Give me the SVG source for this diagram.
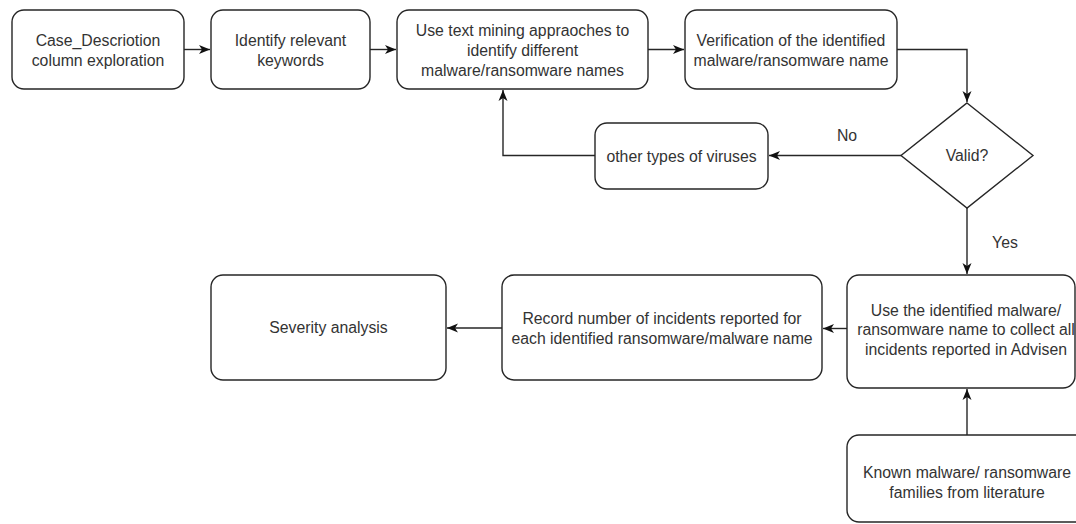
<svg xmlns="http://www.w3.org/2000/svg" width="1076" height="524" viewBox="0 0 1076 524">
<defs>
<style>
.box{fill:#ffffff;stroke:#262626;stroke-width:1.4}
.t{font-family:"Liberation Sans",Arial,sans-serif;font-size:15.8px;fill:#333333;text-anchor:middle;dominant-baseline:central}
.c{fill:none;stroke:#262626;stroke-width:1.4}
</style>
<marker id="arr" markerUnits="userSpaceOnUse" markerWidth="14" markerHeight="12" refX="12" refY="6" orient="auto">
<path d="M1,1.5 L12,6 L1,10.5 L4,6 Z" fill="#111111"/>
</marker>
</defs>
<rect width="1076" height="524" fill="#ffffff"/>
<g id="connectors">
<path class="c" d="M184,49.5 H210" marker-end="url(#arr)"/>
<path class="c" d="M370,49.5 H396" marker-end="url(#arr)"/>
<path class="c" d="M648,49.5 H684" marker-end="url(#arr)"/>
<path class="c" d="M897,49.5 H967 V102" marker-end="url(#arr)"/>
<path class="c" d="M901,155.5 H769" marker-end="url(#arr)"/>
<path class="c" d="M595,155.5 H503 V90" marker-end="url(#arr)"/>
<path class="c" d="M967,208 V274" marker-end="url(#arr)"/>
<path class="c" d="M847,328.5 H823" marker-end="url(#arr)"/>
<path class="c" d="M502,328 H447" marker-end="url(#arr)"/>
<path class="c" d="M967,435 V389" marker-end="url(#arr)"/>
<text class="t" x="847" y="135">No</text>
<text class="t" x="1005" y="242">Yes</text>
</g>
<g id="n1">
<rect class="box" x="12" y="10" width="172" height="79" rx="12"/>
<text class="t" x="98" y="40">Case_Descriotion</text>
<text class="t" x="98" y="60">column exploration</text>
</g>
<g id="n2">
<rect class="box" x="211" y="10" width="159" height="79" rx="12"/>
<text class="t" x="290.5" y="40">Identify relevant</text>
<text class="t" x="290.5" y="60">keywords</text>
</g>
<g id="n3">
<rect class="box" x="397" y="10" width="251" height="79" rx="12"/>
<text class="t" x="522.5" y="30">Use text mining appraoches to</text>
<text class="t" x="522.5" y="50">identify different</text>
<text class="t" x="522.5" y="70">malware/ransomware names</text>
</g>
<g id="n4">
<rect class="box" x="685" y="10" width="212" height="79" rx="12"/>
<text class="t" x="791" y="40">Verification of the identified</text>
<text class="t" x="791" y="60">malware/ransomware name</text>
</g>
<g id="valid">
<path class="box" d="M967,103 L1033,155.5 L967,208 L901,155.5 Z"/>
<text class="t" x="967" y="155">Valid?</text>
</g>
<g id="other">
<rect class="box" x="595" y="123" width="173" height="66" rx="12"/>
<text class="t" x="681.5" y="156">other types of viruses</text>
</g>
<g id="severity">
<rect class="box" x="211" y="275" width="235" height="105" rx="12"/>
<text class="t" x="328.5" y="327">Severity analysis</text>
</g>
<g id="record">
<rect class="box" x="502" y="275" width="320" height="105" rx="12"/>
<text class="t" x="662" y="318">Record number of incidents reported for</text>
<text class="t" x="662" y="338">each identified ransomware/malware name</text>
</g>
<g id="use">
<rect class="box" x="847" y="275" width="228" height="113" rx="12"/>
<text class="t" x="966" y="310">Use the identified malware/</text>
<text class="t" x="966" y="329.5">ransomware name to collect all</text>
<text class="t" x="966" y="349">incidents reported in Advisen</text>
</g>
<g id="known">
<rect class="box" x="847" y="435" width="240" height="87" rx="12"/>
<text class="t" x="967" y="472">Known malware/ ransomware</text>
<text class="t" x="967" y="492">families from literature</text>
</g>
</svg>
